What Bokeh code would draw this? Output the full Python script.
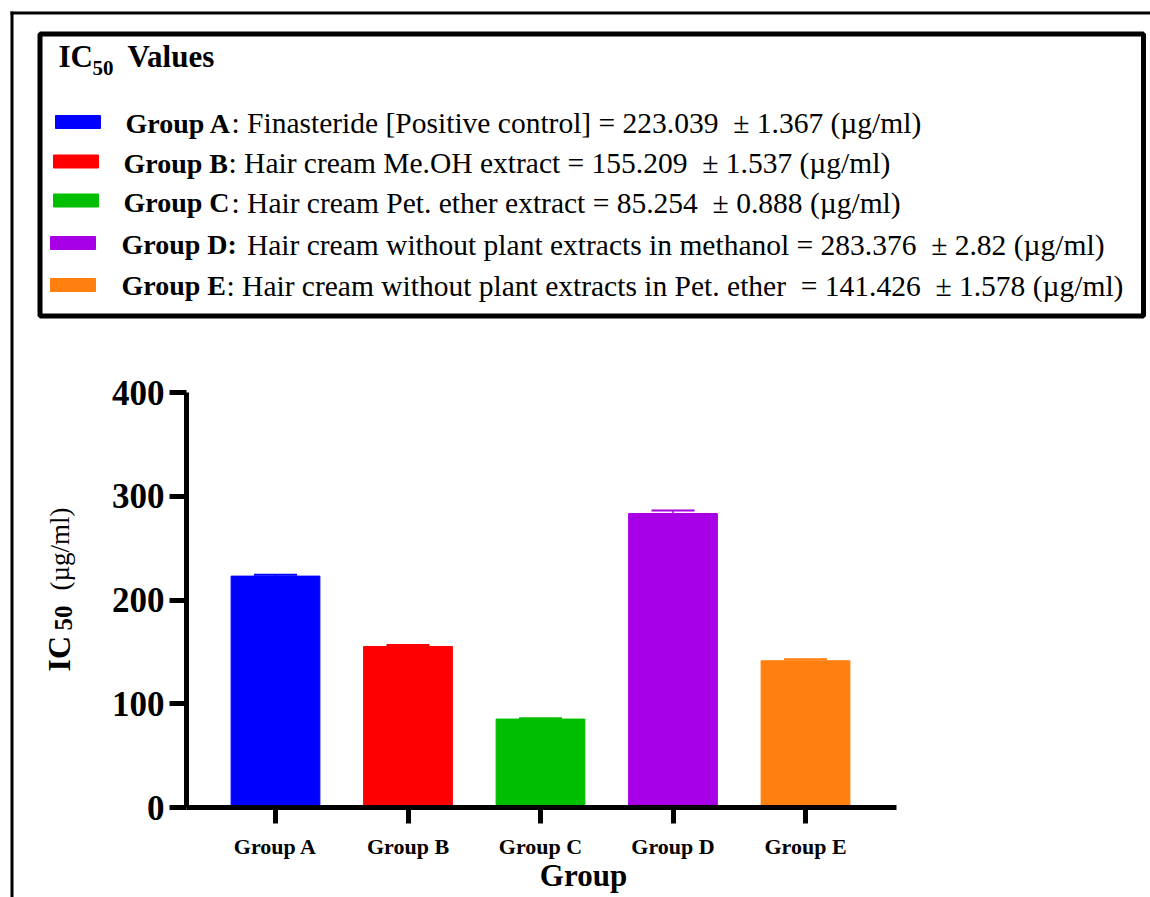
import math
from bokeh.plotting import figure
from bokeh.models import (ColumnDataSource, Range1d, FixedTicker, Whisker, TeeHead,
                          CustomJSTickFormatter)
from bokeh.core.properties import value
from bokeh.embed import file_html
from bokeh.resources import INLINE

# ---------------- data ----------------
groups = ["Group A", "Group B", "Group C", "Group D", "Group E"]
ic50 = [223.039, 155.209, 85.254, 283.376, 141.426]
err = [1.367, 1.537, 0.888, 2.82, 1.578]
err_txt = ["1.367", "1.537", "0.888", "2.82", "1.578"]
descriptions = [
    "Finasteride [Positive control]",
    "Hair cream Me.OH extract",
    "Hair cream Pet. ether extract",
    "Hair cream without plant extracts in methanol",
    "Hair cream without plant extracts in Pet. ether\u00a0",
]
colors = ["#0000FF", "#FF0000", "#00BE00", "#A800E6", "#FF7F0F"]
y_ticks = [0, 100, 200, 300, 400]
x_title = "Group"
legend_title = "Values"

SERIF = "Liberation Serif"
W, H = 1150, 897

# ---------------- layout constants (pixels) ----------------
AX_LEFT, AX_RIGHT = 186, 896          # x-axis line extent
Y0_PX, Y400_PX = 807, 392             # pixel rows of y=0 and y=400
CAT0_PX, CAT_STEP = 275, 132.5        # centre of first category, spacing

ppu = (Y0_PX - Y400_PX) / 400.0
y_lo = -(H - Y0_PX) / ppu
y_hi = Y0_PX / ppu
x_lo = -CAT0_PX / CAT_STEP
x_hi = (W - CAT0_PX) / CAT_STEP

p = figure(width=W, height=H, x_range=Range1d(x_lo, x_hi), y_range=Range1d(y_lo, y_hi),
           toolbar_location=None, output_backend="svg", min_border=0,
           outline_line_color=None, background_fill_color="white",
           border_fill_color="white")
p.grid.visible = False
p.extra_x_ranges = {"px": Range1d(0, W)}
p.extra_y_ranges = {"py": Range1d(H, 0)}

PX = dict(x_range_name="px", y_range_name="py")

# ---------------- outer frame & legend panel ----------------
p.quad(left=[10], right=[W], top=[11], bottom=[14], fill_color="black", line_color=None, **PX)
p.quad(left=[10], right=[13], top=[11], bottom=[H], fill_color="black", line_color=None, **PX)
p.quad(left=[39.5], right=[1143], top=[33.5], bottom=[315.5], fill_color=None,
       line_color="black", line_width=5, **PX)

p.text(x=[58], y=[56], text=["IC"], text_font=value(SERIF), text_font_style="bold",
       text_font_size="31px", text_baseline="alphabetic", text_color="black", **PX)
p.text(x=[92], y=[67], text=["50"], text_font=value(SERIF), text_font_style="bold",
       text_font_size="21px", text_baseline="alphabetic", text_color="black", **PX)
p.text(x=[127], y=[56], text=[legend_title], text_font=value(SERIF), text_font_style="bold",
       text_font_size="31px", text_baseline="alphabetic", text_color="black", **PX)

bold_labels = [g if i != 3 else g + ":" for i, g in enumerate(groups)]
normal_labels = []
for i in range(len(groups)):
    sep = ": " if i != 3 else "\u00a0"
    normal_labels.append(
        f"{sep}{descriptions[i]} = {ic50[i]:.3f} \u00a0\u00b1 {err_txt[i]} (\u00b5g/ml)")

row_mid = [122.5, 162.5, 202, 244, 285]
sw_y = [121.5, 161, 200, 242.5, 284.5]
sw_x = [77.5, 75.5, 75.5, 72.5, 72.5]
bold_x = [125, 123, 123, 121, 121]
norm_x = [231, 228, 231, 239, 226]

leg = ColumnDataSource(dict(bold=bold_labels, normal=normal_labels, colors=colors,
                            by=row_mid, sy=sw_y, sx=sw_x, bx=bold_x, nx=norm_x))
p.rect(x="sx", y="sy", width=45, height=13, fill_color="colors", line_color="colors",
       source=leg, **PX)
p.text(x="bx", y="by", text="bold", text_font=value(SERIF), text_font_style="bold",
       text_font_size="28px", text_baseline="alphabetic", text_color="black", source=leg, **PX)
p.text(x="nx", y="by", text="normal", text_font=value(SERIF), text_font_style="normal",
       text_font_size="29.5px", text_baseline="alphabetic", text_color="black", source=leg, **PX)

# ---------------- bars ----------------
src = ColumnDataSource(dict(pos=list(range(len(groups))), ic50=ic50, colors=colors))
p.vbar(x="pos", top="ic50", width=0.67, fill_color="colors", line_color="colors", source=src)

for i in range(len(groups)):
    s = ColumnDataSource(dict(base=[i], lower=[ic50[i]], upper=[ic50[i] + err[i]]))
    p.add_layout(Whisker(base="base", lower="lower", upper="upper", source=s,
                         line_color=colors[i], line_width=1.5, lower_head=None,
                         upper_head=TeeHead(size=43, line_color=colors[i], line_width=2)))

# ---------------- axes ----------------
xa, ya = p.xaxis[0], p.yaxis[0]
for ax in (xa, ya):
    ax.axis_line_width = 5
    ax.axis_line_color = "black"
    ax.major_tick_line_width = 5
    ax.major_tick_line_color = "black"
    ax.major_tick_in = 0
    ax.minor_tick_line_color = None
    ax.major_label_text_font = SERIF
    ax.major_label_text_font_style = "bold"
    ax.major_label_text_color = "black"

ya.ticker = FixedTicker(ticks=y_ticks)
ya.fixed_location = (AX_LEFT - CAT0_PX) / CAT_STEP
ya.bounds = (y_ticks[0], y_ticks[-1])
ya.major_tick_out = 17
ya.major_label_standoff = 5
ya.major_label_text_font_size = "35px"

xa.ticker = FixedTicker(ticks=list(range(len(groups))))
xa.formatter = CustomJSTickFormatter(args=dict(labels=groups),
                                     code="return labels[Math.round(tick)] || '';")
xa.fixed_location = 0
xa.bounds = ((AX_LEFT - CAT0_PX) / CAT_STEP, (AX_RIGHT - CAT0_PX) / CAT_STEP)
xa.major_tick_out = 16
xa.major_label_standoff = 10
xa.major_label_text_font_size = "22px"

# axis titles
p.text(x=[583], y=[875], text=[x_title], text_align="center", text_baseline="alphabetic",
       text_font=value(SERIF), text_font_style="bold", text_font_size="31px",
       text_color="black", **PX)
p.text(x=[58], y=[671], text=["IC"], angle=math.pi / 2, text_align="left",
       text_baseline="alphabetic", text_font=value(SERIF), text_font_style="bold",
       text_font_size="32px", text_color="black", **PX)
p.text(x=[63], y=[630], text=["50"], angle=math.pi / 2, text_align="left",
       text_baseline="alphabetic", text_font=value(SERIF), text_font_style="bold",
       text_font_size="25px", text_color="black", **PX)
p.text(x=[59], y=[590], text=["(\u00b5g/ml)"], angle=math.pi / 2, text_align="left",
       text_baseline="alphabetic", text_font=value(SERIF), text_font_style="normal",
       text_font_size="27px", text_color="black", **PX)

open("out.html", "w").write(file_html(p, INLINE))
